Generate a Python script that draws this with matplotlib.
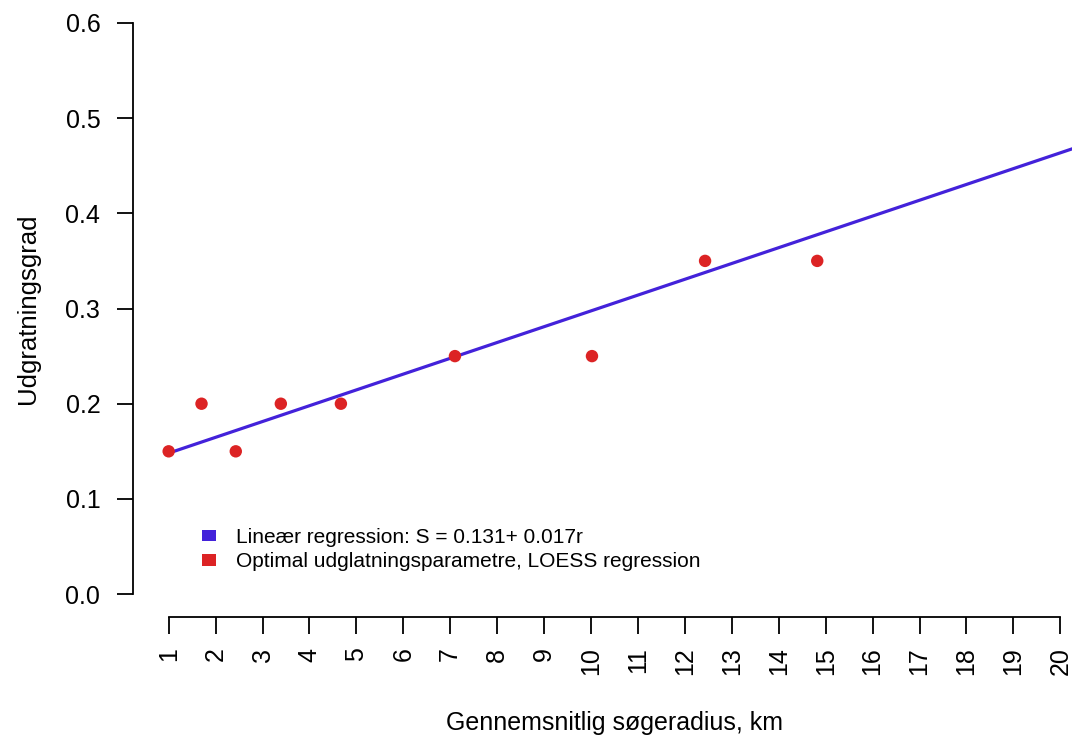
import matplotlib.pyplot as plt
from matplotlib.patches import Patch

plt.rcParams['font.family'] = ['Liberation Sans', 'DejaVu Sans']

# data
radius = [1.0, 1.7, 2.43, 3.39, 4.67, 7.1, 10.02, 12.43, 14.82]
smoothing = [0.15, 0.20, 0.15, 0.20, 0.20, 0.25, 0.25, 0.35, 0.35]
intercept = 0.1315
slope = 0.0166
line_x = [1, 21]
x_ticks = list(range(1, 21))
y_ticks = [0.0, 0.1, 0.2, 0.3, 0.4, 0.5, 0.6]

blue = '#4322DA'
red = '#DC2324'

fig = plt.figure(figsize=(10.72, 7.40), dpi=100)
# R style plot region, partly outside the (cropped) figure
ax = fig.add_axes([133 / 1072, 123 / 740, 963 / 1072, 617 / 740])

ax.plot(line_x, [intercept + slope * r for r in line_x], color=blue, lw=2.3,
        solid_capstyle='butt', zorder=2)
ax.scatter(radius, smoothing, s=80, color=red, edgecolors='none', zorder=3)

ax.set_xlim(0.24, 20.76)
ax.set_ylim(-0.024, 0.624)

for s in ['top', 'right']:
    ax.spines[s].set_visible(False)
ax.spines['left'].set_bounds(0, 0.6)
ax.spines['bottom'].set_bounds(1, 20)
for s in ['left', 'bottom']:
    ax.spines[s].set_linewidth(1.3)

ax.set_xticks(x_ticks)
ax.set_yticks(y_ticks)
ax.set_yticklabels([f'{v:.1f}' for v in y_ticks])
ax.tick_params(axis='x', length=12, width=1.3, pad=10, labelsize=18,
               labelrotation=90)
ax.tick_params(axis='y', length=11.5, width=1.3, pad=12, labelsize=18)

ax.set_xlabel('Gennemsnitlig søgeradius, km', fontsize=18)
ax.xaxis.set_label_coords(0.5, -0.172)
ax.xaxis.label.set_va('center')
ax.set_ylabel('Udgratningsgrad', fontsize=18.5)
ax.yaxis.set_label_coords(-0.109, 0.5)
ax.yaxis.label.set_va('center')

handles = [Patch(facecolor=blue, edgecolor='none'),
           Patch(facecolor=red, edgecolor='none')]
labels = ['Lineær regression: S = 0.131+ 0.017r',
          'Optimal udglatningsparametre, LOESS regression']
fig.legend(handles, labels, loc='upper left',
           bbox_to_anchor=(202 / 1072, 1 - 528 / 740),
           frameon=False, fontsize=15, handlelength=0.67, handleheight=0.45,
           handletextpad=0.96, labelspacing=0.26, borderpad=0, borderaxespad=0)

fig.savefig('out.png', dpi=100)
